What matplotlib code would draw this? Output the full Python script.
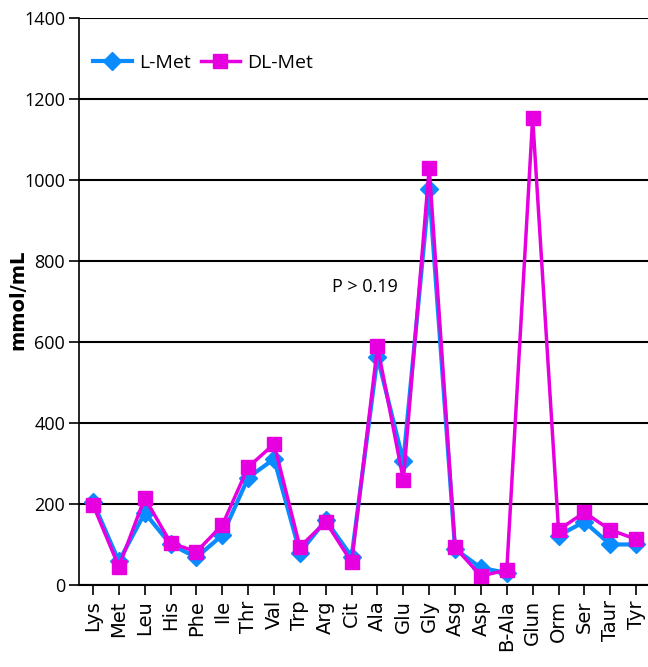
import matplotlib
matplotlib.use("Agg")
import matplotlib.pyplot as plt
from matplotlib import font_manager

# amino acid panel, plasma concentrations per diet group
amino_acids = ["Lys", "Met", "Leu", "His", "Phe", "Ile", "Thr", "Val", "Trp", "Arg",
               "Cit", "Ala", "Glu", "Gly", "Asg", "Asp", "B-Ala", "Glun", "Orm",
               "Ser", "Taur", "Tyr"]
# Glun was not reported for the L-Met group
l_met = [205, 58, 178, 100, 68, 123, 265, 311, 80, 160,
         70, 563, 305, 977, 89, 42, 30, float("nan"), 122, 156, 100, 100]
dl_met = [198, 45, 215, 104, 82, 148, 291, 348, 94, 156,
          56, 589, 259, 1030, 93, 22, 37, 1153, 136, 179, 136, 113]
y_ticks = [0, 200, 400, 600, 800, 1000, 1200, 1400]

BLUE = "#0a8cff"
MAGENTA = "#e600e0"

installed = {f.name for f in font_manager.fontManager.ttflist}
narrow = [f for f in ["Liberation Sans Narrow", "Open Sans", "DejaVu Sans"] if f in installed]

fig = plt.figure(figsize=(6.48, 6.67), dpi=100)
ax = fig.add_axes([0.122, 0.123, 0.878, 0.850])

x = list(range(len(amino_acids)))
ax.plot(x, l_met, color=BLUE, lw=3, marker="D", ms=9, mfc=BLUE, mec=BLUE,
        label="L-Met", zorder=3)
ax.plot(x, dl_met, color=MAGENTA, lw=2.5, marker="s", ms=9.5, mfc=MAGENTA,
        mec=MAGENTA, label="DL-Met", zorder=4)

ax.set_ylim(0, 1400)
ax.set_xlim(-0.54, len(amino_acids) - 0.54)
ax.set_yticks(y_ticks)
ax.set_yticklabels([str(t) for t in y_ticks], family=narrow, fontsize=13)
ax.set_xticks(x)
ax.set_xticklabels(amino_acids, rotation=90, fontsize=14, family="DejaVu Sans")
ax.tick_params(axis="both", length=7, width=1.2, color="black")
ax.tick_params(axis="x", pad=4)
ax.tick_params(axis="y", pad=3)

for t in y_ticks:
    ax.axhline(t, color="black", lw=1.5, zorder=1)

for side in ["top", "right"]:
    ax.spines[side].set_visible(False)
ax.spines["left"].set_linewidth(1.2)
ax.spines["bottom"].set_linewidth(1.5)

fig.text(0.028, 0.55, "mmol/mL", rotation=90, ha="center", va="center",
         fontsize=14, fontweight="bold", family="DejaVu Sans")

ax.text(10.5, 735, "P > 0.19", ha="center", va="center", fontsize=13, family=narrow)

ax.legend(loc="upper left", bbox_to_anchor=(0.0, 0.96), ncol=2, frameon=False,
          prop={"family": narrow, "size": 14}, handlelength=2.0,
          handletextpad=0.4, columnspacing=0.5, borderaxespad=0.3)

fig.savefig("out.png", dpi=100)
